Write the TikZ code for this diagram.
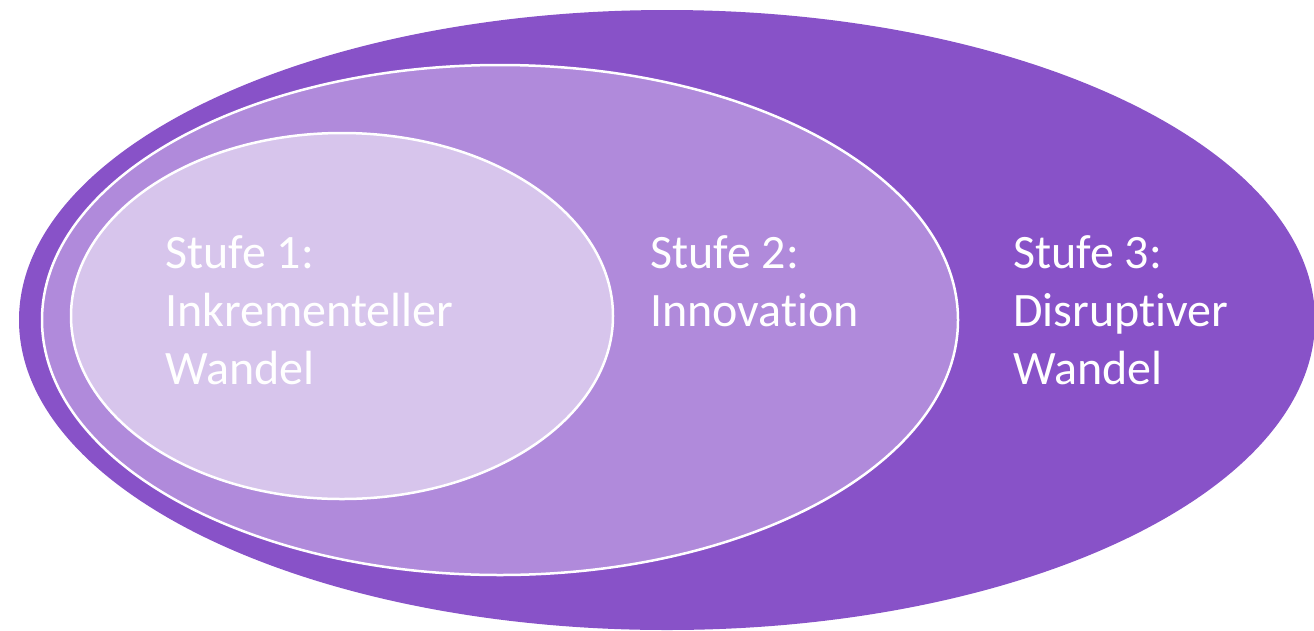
\documentclass[tikz,border=0pt]{standalone}
\usepackage{fontspec}
\setmainfont{Carlito}[Ligatures=NoCommon]
\definecolor{darkp}{HTML}{8852C8}
\definecolor{midp}{HTML}{B08ADB}
\definecolor{lightp}{HTML}{D7C5EC}
\begin{document}
\begin{tikzpicture}[x=1pt,y=-1pt,
  ring/.style={draw=white,line width=2.5pt},
  lbl/.style={text=white,align=left,inner sep=0pt,anchor=base west,font=\fontsize{48}{58}\selectfont}]
\useasboundingbox (0,0) rectangle (1314,630);
\begin{scope}
\clip (0,0) rectangle (1314,630);
\fill[darkp] (667,320) ellipse [x radius=648, y radius=310];
\end{scope}
\filldraw[ring,fill=midp] (500,320) ellipse [x radius=458, y radius=255];
\filldraw[ring,fill=lightp] (342,316) ellipse [x radius=271, y radius=183];
\node[lbl] (s1) at (165,384) {Stufe 1:\\Inkrementeller\\Wandel};
\node[lbl] (s2) at (650,326) {Stufe 2:\\Innovation};
\node[lbl] (s3) at (1013,384) {Stufe 3:\\Disruptiver\\Wandel};
\end{tikzpicture}
\end{document}
